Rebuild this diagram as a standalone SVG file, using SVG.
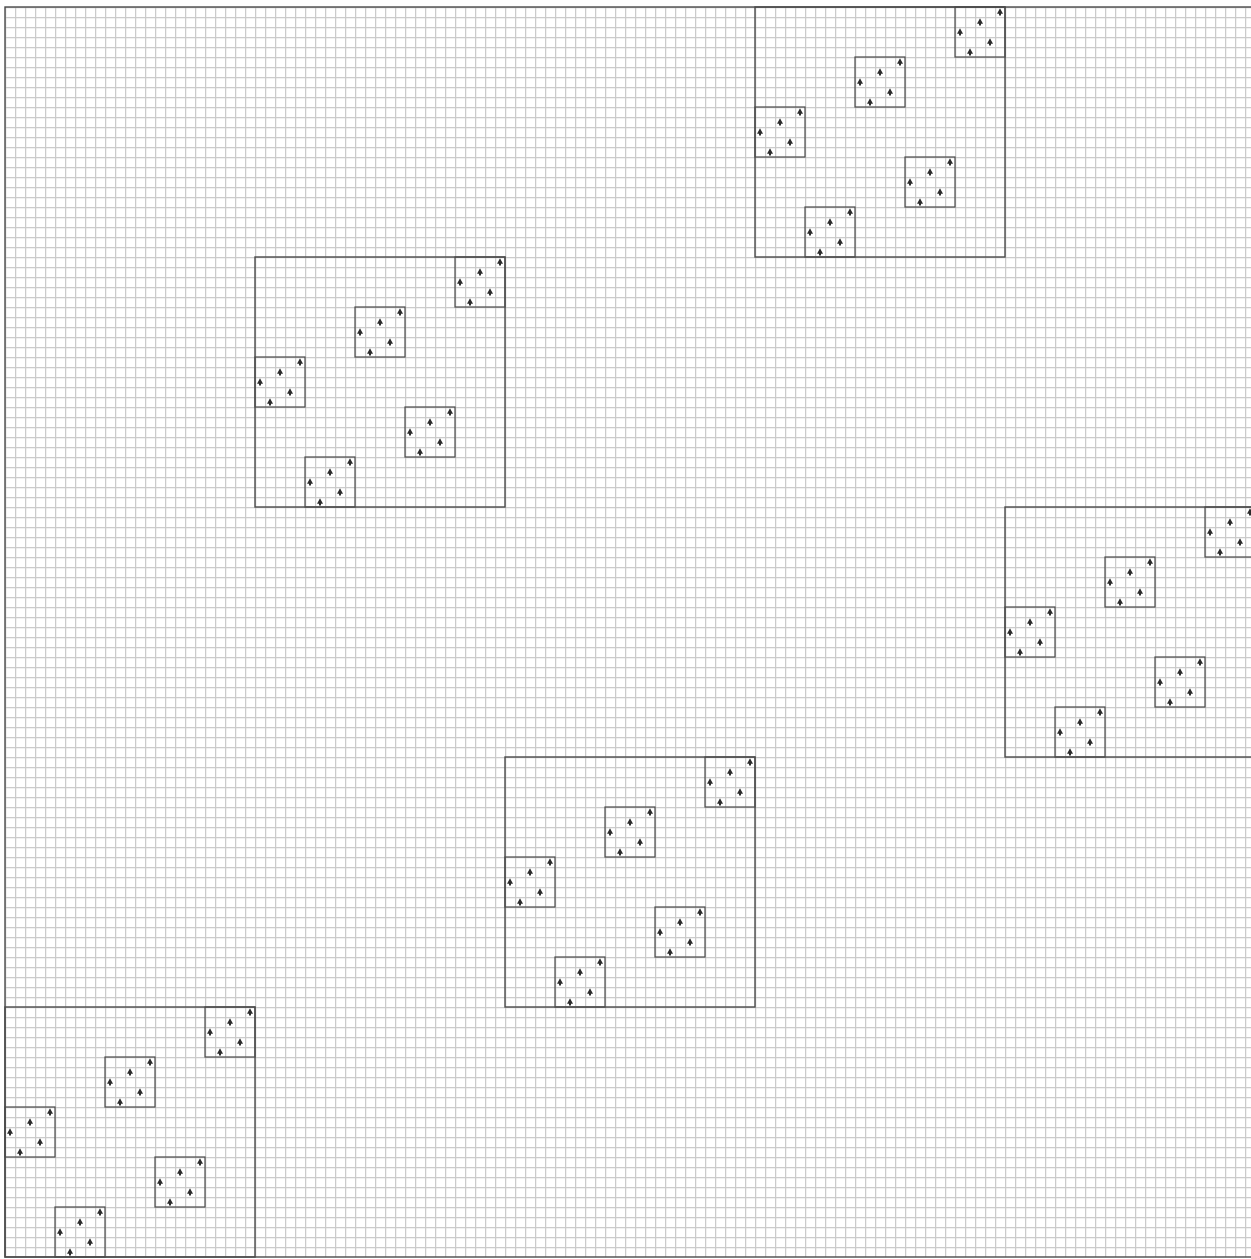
<svg xmlns="http://www.w3.org/2000/svg" xmlns:xlink="http://www.w3.org/1999/xlink" width="1251" height="1259" viewBox="0 0 1251 1259">
<style>
.frame{fill:none;stroke:#4a4a4a;stroke-width:1.4}
.small{fill:none;stroke:#4a4a4a;stroke-width:1.2}
.mark{fill:#2a2a2a}
</style>
<defs>
<pattern id="grid" patternUnits="userSpaceOnUse" x="5" y="7" width="10" height="10">
<path d="M0.6 0V10M0 0.6H10" stroke="#cbcbcb" stroke-width="1.3" fill="none"/>
</pattern>
<path id="m" class="mark" d="M0,-3.8 L3,1.8 L1,1.8 L1,3.4 L-1,3.4 L-1,1.8 L-3,1.8 Z"/>
<g id="sq">
<rect class="small" x="0" y="0" width="50" height="50"/>
<use xlink:href="#m" x="45" y="5"/>
<use xlink:href="#m" x="25" y="15"/>
<use xlink:href="#m" x="5" y="25"/>
<use xlink:href="#m" x="35" y="35"/>
<use xlink:href="#m" x="15" y="45"/>
</g>
<g id="big">
<rect class="frame" x="0" y="0" width="250" height="250"/>
<use xlink:href="#sq" x="200" y="0"/>
<use xlink:href="#sq" x="100" y="50"/>
<use xlink:href="#sq" x="0" y="100"/>
<use xlink:href="#sq" x="150" y="150"/>
<use xlink:href="#sq" x="50" y="200"/>
</g>
</defs>
<rect x="0" y="0" width="1251" height="1259" fill="#ffffff"/>
<rect id="background-grid" x="5" y="7" width="1250" height="1250" fill="url(#grid)"/>
<rect class="frame" x="5" y="7" width="1250" height="1250"/>
<g id="connectors"/>
<g id="block-1"><use xlink:href="#big" x="755" y="7"/></g>
<g id="block-2"><use xlink:href="#big" x="255" y="257"/></g>
<g id="block-3"><use xlink:href="#big" x="1005" y="507"/></g>
<g id="block-4"><use xlink:href="#big" x="505" y="757"/></g>
<g id="block-5"><use xlink:href="#big" x="5" y="1007"/></g>
</svg>
